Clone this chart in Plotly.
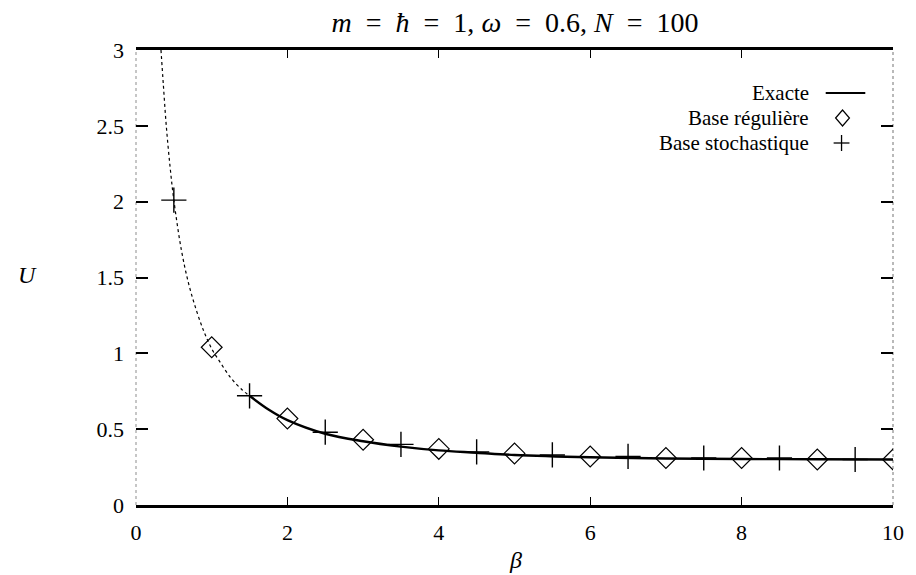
import plotly.graph_objects as go

# ---- data ----
beta_exact = [0.33, 0.36, 0.4, 0.45, 0.5, 0.6, 0.7, 0.8, 0.9, 1.0, 1.1, 1.25, 1.4, 1.5,
              1.75, 2.0, 2.5, 3.0, 3.5, 4.0, 4.5, 5.0, 6.0, 7.0, 8.0, 9.0, 10.0]
U_exact = [3.0, 2.78, 2.5, 2.23, 2.01, 1.68, 1.45, 1.28, 1.14, 1.03, 0.95, 0.84, 0.76, 0.72,
           0.63, 0.56, 0.47, 0.42, 0.385, 0.36, 0.345, 0.33, 0.315, 0.307, 0.303, 0.302, 0.30]

beta_reg = [1, 2, 3, 4, 5, 6, 7, 8, 9, 10]
U_reg = [1.04, 0.57, 0.43, 0.37, 0.34, 0.32, 0.31, 0.31, 0.30, 0.30]

beta_sto = [0.5, 1.5, 2.5, 3.5, 4.5, 5.5, 6.5, 7.5, 8.5, 9.5]
U_sto = [2.01, 0.72, 0.48, 0.40, 0.35, 0.33, 0.32, 0.31, 0.31, 0.30]

x_ticks = [0, 2, 4, 6, 8, 10]
y_ticks = [0, 0.5, 1, 1.5, 2, 2.5, 3]
y_tick_text = ["0", "0.5", "1", "1.5", "2", "2.5", "3"]

legend_names = ["Exacte", "Base régulière", "Base stochastique"]

FONT = "Liberation Serif, Times New Roman, serif"

# plot-area geometry (pixels) used to place the hand-made legend/labels
L, R, T, B = 136, 901, 50, 505
PW, PH = R - L, B - T


def px(x):
    return (x - L) / PW


def py(y):
    return (B - y) / PH


# split the exact curve: steep part looks dotted in the reference
split = beta_exact.index(1.5)

fig = go.Figure()
fig.add_trace(go.Scatter(x=beta_exact[:split + 1], y=U_exact[:split + 1], mode="lines",
                         line=dict(color="black", width=1.2, dash="dot", shape="spline"),
                         showlegend=False, hoverinfo="skip"))
fig.add_trace(go.Scatter(x=beta_exact[split:], y=U_exact[split:], mode="lines",
                         line=dict(color="black", width=2.4, shape="spline"),
                         name=legend_names[0], showlegend=False))
fig.add_trace(go.Scatter(x=beta_reg, y=U_reg, mode="markers",
                         marker=dict(symbol="diamond-open", size=16, color="black",
                                     line=dict(width=1.2, color="black")),
                         name=legend_names[1], showlegend=False))
fig.add_trace(go.Scatter(x=beta_sto, y=U_sto, mode="markers",
                         marker=dict(symbol="cross-thin-open", size=18, color="black",
                                     line=dict(width=1.4, color="black")),
                         name=legend_names[2], showlegend=False))

# custom legend (text right-aligned, sample on the right, like gnuplot)
legend_y = [93, 118, 143]
annotations = []
for name, yy in zip(legend_names, legend_y):
    annotations.append(dict(text=name, xref="paper", yref="paper",
                            x=px(818), y=py(yy),
                            xanchor="right", yanchor="middle", showarrow=False,
                            font=dict(family=FONT, size=21, color="black")))
# axis titles
annotations.append(dict(text="<i>U</i>", xref="paper", yref="paper",
                        x=px(26), y=py(275),
                        xanchor="center", yanchor="middle", showarrow=False,
                        font=dict(family=FONT, size=24, color="black")))
annotations.append(dict(text="<i>β</i>", xref="paper", yref="paper",
                        x=px(520), y=py(560),
                        xanchor="center", yanchor="middle", showarrow=False,
                        font=dict(family=FONT, size=24, color="black")))

dx, dy = 7, 8  # legend diamond half-sizes (px)
cx, cy = 850, legend_y[1]
diamond_path = (f"M {px(cx - dx)} {py(cy)} L {px(cx)} {py(cy - dy)} "
                f"L {px(cx + dx)} {py(cy)} L {px(cx)} {py(cy + dy)} Z")
pxc, pyc = 849, legend_y[2]

shapes = [
    dict(type="line", xref="paper", yref="paper", x0=px(833), x1=px(873),
         y0=py(legend_y[0]), y1=py(legend_y[0]),
         line=dict(color="black", width=2)),
    dict(type="path", xref="paper", yref="paper", path=diamond_path,
         line=dict(color="black", width=1.2)),
    dict(type="line", xref="paper", yref="paper", x0=px(pxc - 8), x1=px(pxc + 8),
         y0=py(pyc), y1=py(pyc), line=dict(color="black", width=1.3)),
    dict(type="line", xref="paper", yref="paper", x0=px(pxc), x1=px(pxc),
         y0=py(pyc - 8), y1=py(pyc + 8), line=dict(color="black", width=1.3)),
    dict(type="line", xref="paper", yref="paper", x0=0, x1=0, y0=0, y1=1,
         line=dict(color="rgba(0,0,0,0.45)", width=1, dash="dot")),
    dict(type="line", xref="paper", yref="paper", x0=1, x1=1, y0=0, y1=1,
         line=dict(color="rgba(0,0,0,0.55)", width=1, dash="dot")),
]

SP = "\u2002"
title_text = (f"<i>m</i>{SP}={SP}<i>ħ</i>{SP}={SP}1, <i>ω</i>{SP}={SP}0.6, "
              f"<i>N</i>{SP}={SP}100")

fig.update_layout(
    width=916, height=575,
    margin=dict(l=L, r=916 - R, t=T, b=575 - B),
    paper_bgcolor="white", plot_bgcolor="white",
    title=dict(text=title_text,
               x=515 / 916, xanchor="center", y=1 - 22 / 575, yanchor="middle",
               font=dict(family=FONT, size=28, color="black")),
    font=dict(family=FONT, size=22, color="black"),
    annotations=annotations,
    shapes=shapes,
    showlegend=False,
)
fig.update_xaxes(range=[0, 10], tickvals=x_ticks, ticktext=[str(v) for v in x_ticks],
                 ticks="inside", ticklen=8, tickwidth=1, tickcolor="black",
                 showline=True, linecolor="black", linewidth=2.5, mirror="ticks",
                 showgrid=False, zeroline=False, ticklabelstandoff=6,
                 tickfont=dict(family=FONT, size=22, color="black"))
fig.update_yaxes(range=[0, 3], tickvals=y_ticks, ticktext=y_tick_text,
                 ticks="inside", ticklen=12, tickwidth=1.5, tickcolor="black",
                 showline=False, mirror="ticks",
                 showgrid=False, zeroline=False, ticklabelstandoff=11,
                 tickfont=dict(family=FONT, size=22, color="black"))

fig.write_html("out.html")
